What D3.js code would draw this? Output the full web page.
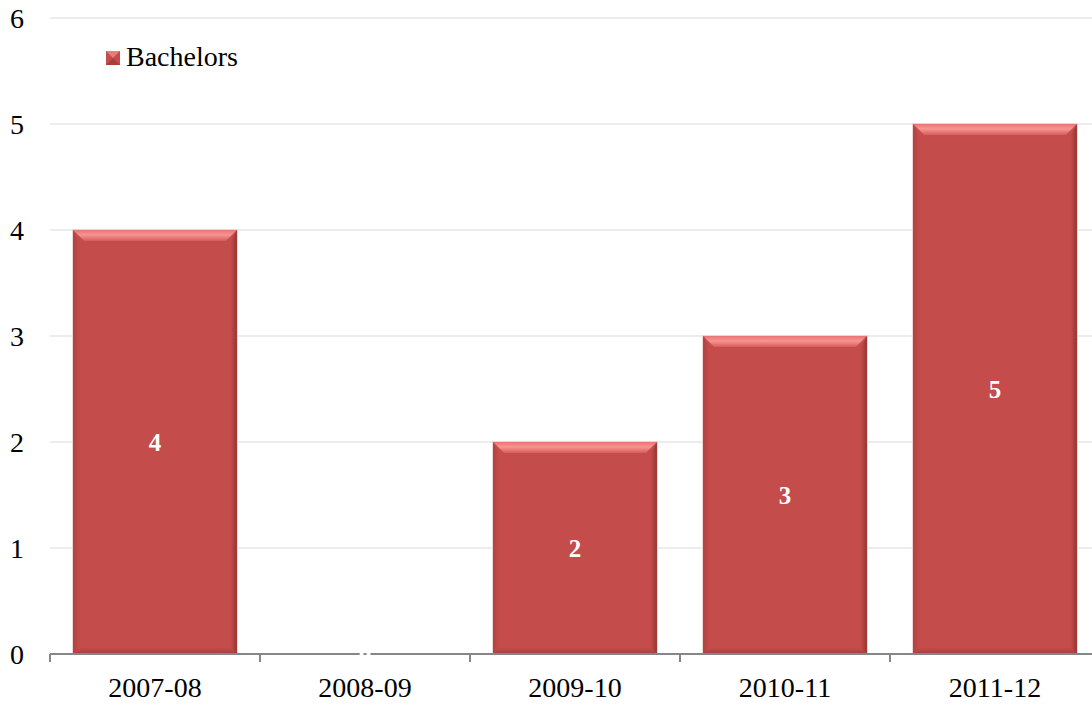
<!DOCTYPE html>
<html><head><meta charset="utf-8">
<script src="https://cdn.jsdelivr.net/npm/d3@7"></script>
<style>html,body{margin:0;padding:0;background:#fff;}svg{display:block;}</style>
</head><body>
<svg id="c" width="1092" height="704"></svg>
<script>
const categories = ["2007-08","2008-09","2009-10","2010-11","2011-12"];
const bachelors = [4,0,2,3,5];
const yTicks = [0,1,2,3,4,5,6];
const seriesName = "Bachelors";

(function(){
const svg = d3.select("#c");
const pLeft = 50, pRight = 1100, pTop = 18, pBottom = 654;
const font = "'Liberation Serif','Times New Roman',serif";

const x = d3.scaleBand().domain(categories).range([pLeft, pRight]).paddingInner(0.22).paddingOuter(0.11);
const xb = d3.scaleBand().domain(categories).range([pLeft, pRight]);
const y = d3.scaleLinear().domain([0,6]).range([pBottom, pTop]);

const defs = svg.append("defs");
const gTop = defs.append("linearGradient").attr("id","gTop").attr("x1",0).attr("y1",0).attr("x2",0).attr("y2",1);
gTop.append("stop").attr("offset","0%").attr("stop-color","#e87472");
gTop.append("stop").attr("offset","45%").attr("stop-color","#f79492");
gTop.append("stop").attr("offset","100%").attr("stop-color","#d85c59");
const gL = defs.append("linearGradient").attr("id","gL").attr("x1",0).attr("y1",0).attr("x2",1).attr("y2",0);
gL.append("stop").attr("offset","0%").attr("stop-color","#b04240");
gL.append("stop").attr("offset","100%").attr("stop-color","#c44c4a");
const gR = defs.append("linearGradient").attr("id","gR").attr("x1",0).attr("y1",0).attr("x2",1).attr("y2",0);
gR.append("stop").attr("offset","0%").attr("stop-color","#c44c4a");
gR.append("stop").attr("offset","100%").attr("stop-color","#953533");
const gB = defs.append("linearGradient").attr("id","gB").attr("x1",0).attr("y1",0).attr("x2",0).attr("y2",1);
gB.append("stop").attr("offset","0%").attr("stop-color","#c44c4a");
gB.append("stop").attr("offset","100%").attr("stop-color","#a63d3b");

// gridlines
svg.append("g").selectAll("line").data(yTicks.filter(d=>d>0)).join("line")
  .attr("x1", pLeft).attr("x2", 1092)
  .attr("y1", d=>y(d)).attr("y2", d=>y(d))
  .attr("stroke","#d9d9d9").attr("stroke-width",1);

// y labels
svg.append("g").selectAll("text").data(yTicks).join("text")
  .attr("x", 24).attr("y", d=>y(d)).attr("dy","0.35em")
  .attr("text-anchor","end").attr("font-family",font).attr("font-size",28).attr("fill","#000")
  .text(d=>d);

// bars
const bt = 11, bs = 6;
const bars = svg.append("g").selectAll("g").data(categories.map((c,i)=>({c, v: bachelors[i]})).filter(d=>d.v>0)).join("g");
bars.each(function(d){
  const g = d3.select(this);
  const x0 = x(d.c), w = x.bandwidth(), y0 = y(d.v), h = y(0) - y(d.v);
  g.append("rect").attr("x",x0-1).attr("y",y0-1).attr("width",w+2).attr("height",h+1).attr("fill","#f0d2d2");
  g.append("rect").attr("x",x0).attr("y",y0).attr("width",w).attr("height",h).attr("fill","#c44c4a");
  g.append("polygon").attr("points",[[x0,y0],[x0+bs,y0+bt],[x0+bs,y0+h-bs],[x0,y0+h]].join(" ")).attr("fill","url(#gL)");
  g.append("polygon").attr("points",[[x0+w,y0],[x0+w-bs,y0+bt],[x0+w-bs,y0+h-bs],[x0+w,y0+h]].join(" ")).attr("fill","url(#gR)");
  g.append("polygon").attr("points",[[x0,y0+h],[x0+bs,y0+h-bs],[x0+w-bs,y0+h-bs],[x0+w,y0+h]].join(" ")).attr("fill","url(#gB)");
  g.append("polygon").attr("points",[[x0,y0],[x0+w,y0],[x0+w-bt,y0+bt],[x0+bt,y0+bt]].join(" ")).attr("fill","url(#gTop)");
});

// axis
const axis = svg.append("g");
axis.append("line").attr("x1",pLeft).attr("x2",1092).attr("y1",pBottom).attr("y2",pBottom).attr("stroke","#868686").attr("stroke-width",2);
axis.selectAll("line.t").data(categories).join("line").attr("class","t")
  .attr("x1",d=>xb(d)).attr("x2",d=>xb(d)).attr("y1",pBottom).attr("y2",pBottom+8)
  .attr("stroke","#868686").attr("stroke-width",2);
axis.selectAll("text").data(categories).join("text")
  .attr("x",d=>xb(d)+xb.bandwidth()/2).attr("y",697)
  .attr("text-anchor","middle").attr("font-family",font).attr("font-size",28).attr("fill","#000")
  .text(d=>d);

// value labels
svg.append("g").selectAll("text").data(categories.map((c,i)=>({c, v: bachelors[i]}))).join("text")
  .attr("x",d=>x(d.c)+x.bandwidth()/2).attr("y",d=>(y(d.v)+y(0))/2).attr("dy","0.35em")
  .attr("text-anchor","middle").attr("font-family",font).attr("font-size",25).attr("font-weight","bold").attr("fill","#fff")
  .text(d=>d.v);

// legend
const lg = svg.append("g");
lg.append("rect").attr("x",106).attr("y",51).attr("width",14).attr("height",14).attr("fill","#c44c4a");
lg.append("polygon").attr("points","106,51 120,51 113,58").attr("fill","#ec7a77");
lg.append("polygon").attr("points","106,65 120,65 113,58").attr("fill","#a83e3c");
lg.append("text").attr("x",126).attr("y",66).attr("font-family",font).attr("font-size",28).attr("fill","#000").text(seriesName);
})();
</script>
</body></html>
